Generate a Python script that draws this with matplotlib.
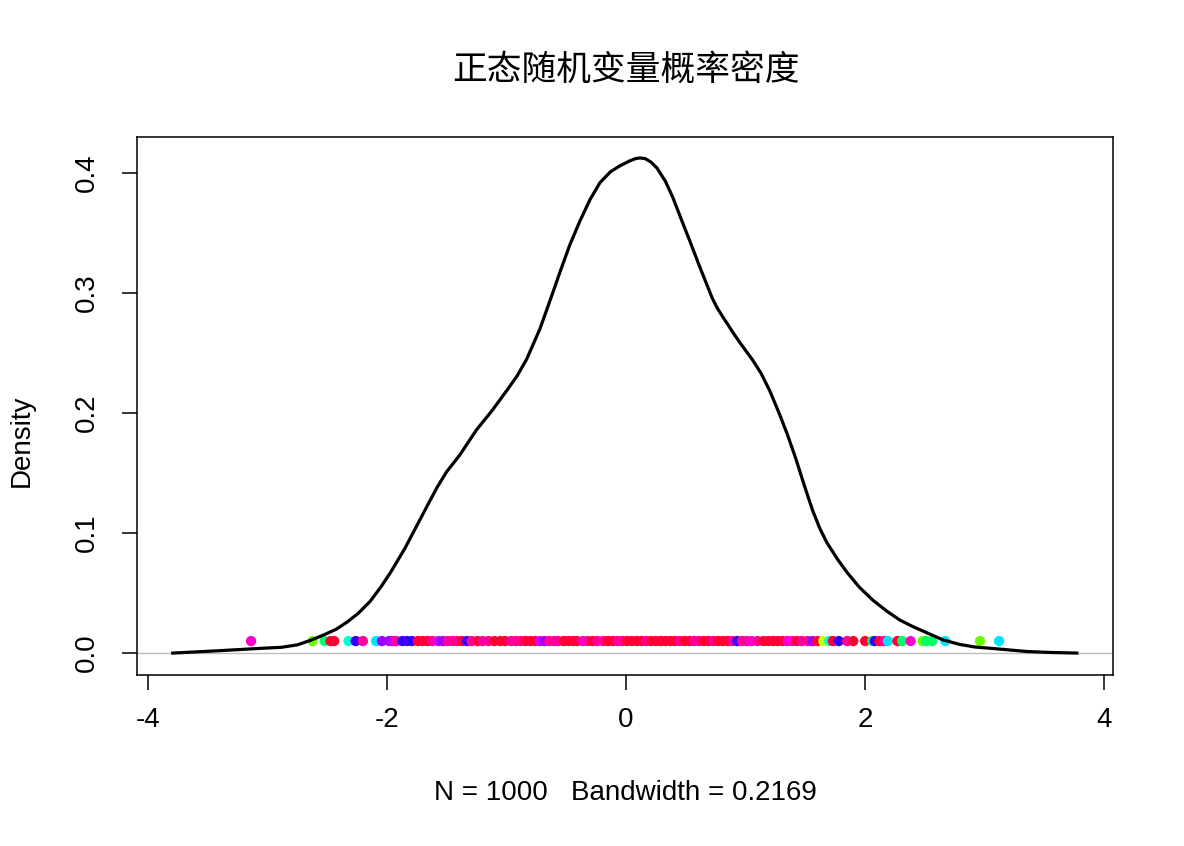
import matplotlib
matplotlib.use("Agg")
import matplotlib.pyplot as plt

plt.rcParams['font.family'] = ['Liberation Sans', 'DejaVu Sans']

# density curve
dens_x = [-3.79, -3.45, -3.04, -2.88, -2.75, -2.64, -2.53, -2.42, -2.33, -2.24,
          -2.14, -2.05, -1.97, -1.85, -1.75, -1.66, -1.58, -1.50, -1.39, -1.25,
          -1.12, -0.995, -0.91, -0.83, -0.72, -0.62, -0.55, -0.47, -0.385, -0.30,
          -0.217, -0.13, -0.05, 0.03, 0.08, 0.117, 0.16, 0.21, 0.26, 0.33,
          0.39, 0.46, 0.535, 0.62, 0.68, 0.72, 0.76, 0.81, 0.85, 0.895,
          0.95, 1.06, 1.13, 1.20, 1.28, 1.35, 1.42, 1.49, 1.56, 1.62,
          1.68, 1.77, 1.85, 1.95, 2.065, 2.18, 2.29, 2.40, 2.52, 2.65,
          2.79, 2.92, 3.07, 3.35, 3.55, 3.77]
dens_y = [0.0, 0.0017, 0.004, 0.0048, 0.0068, 0.0105, 0.015, 0.020, 0.026, 0.033,
          0.043, 0.055, 0.067, 0.087, 0.106, 0.123, 0.138, 0.151, 0.165, 0.186,
          0.202, 0.219, 0.231, 0.245, 0.270, 0.298, 0.318, 0.340, 0.360, 0.378,
          0.392, 0.401, 0.406, 0.410, 0.412, 0.4125, 0.412, 0.409, 0.404, 0.393,
          0.380, 0.362, 0.343, 0.321, 0.306, 0.296, 0.288, 0.280, 0.274, 0.267,
          0.259, 0.244, 0.233, 0.219, 0.200, 0.182, 0.162, 0.140, 0.119, 0.104,
          0.092, 0.078, 0.067, 0.055, 0.044, 0.035, 0.0275, 0.022, 0.0167, 0.011,
          0.0072, 0.005, 0.0038, 0.0013, 0.0005, 0.0]

# sample points shown on the strip at y = 0.01
palette = {'r': '#FF0033', 'p': '#FF0099', 'm': '#FF00CC', 'v': '#CC00FF',
           'u': '#9900FF', 'b': '#3300FF', 'c': '#00E5FF', 'q': '#00FFCC',
           'g': '#00FF66', 'l': '#66FF00', 'y': '#CCFF00'}

pt_x = [-3.135, -2.62, -2.52, -2.47, -2.44, -2.32, -2.26, -2.20, -2.09, -2.04,
        -1.98, -1.95, -1.92, -1.87, -1.83, -1.79, -1.74, -1.70, -1.66, -1.62,
        -1.57, -1.53, -1.49, -1.45, -1.41, -1.37, -1.33, -1.29, -1.24, -1.20,
        -1.15, -1.10, -1.05, -1.01, -0.96, -0.92, -0.88, -0.84, -0.80, -0.76,
        -0.72, -0.68, -0.64, -0.60, -0.57, -0.52, -0.48, -0.44, -0.41, -0.36,
        -0.32, -0.28, -0.24, -0.19, -0.15, -0.11, -0.07, -0.03, 0.01, 0.05,
        0.09, 0.13, 0.17, 0.21, 0.25, 0.29, 0.33, 0.37, 0.41, 0.45,
        0.49, 0.53, 0.57, 0.61, 0.65, 0.69, 0.73, 0.77, 0.81, 0.85,
        0.89, 0.93, 0.97, 1.01, 1.05, 1.10, 1.15, 1.19, 1.23, 1.27,
        1.31, 1.35, 1.39, 1.43, 1.47, 1.52, 1.56, 1.60, 1.65, 1.70,
        1.73, 1.78, 1.85, 1.90, 2.00, 2.06, 2.08, 2.12, 2.16, 2.19,
        2.27, 2.31, 2.38, 2.48, 2.51, 2.56, 2.67, 2.96, 3.12]
pt_col = ['m', 'l', 'g', 'r', 'r', 'q', 'b', 'p', 'c', 'u',
          'u', 'v', 'p', 'b', 'b', 'b', 'r', 'r', 'r', 'p',
          'v', 'u', 'p', 'p', 'p', 'r', 'b', 'p', 'r', 'p',
          'p', 'r', 'r', 'r', 'p', 'p', 'p', 'r', 'r', 'r',
          'v', 'u', 'p', 'p', 'p', 'r', 'r', 'r', 'r', 'm',
          'p', 'r', 'p', 'p', 'r', 'r', 'p', 'p', 'r', 'r',
          'r', 'r', 'p', 'r', 'r', 'r', 'r', 'r', 'r', 'p',
          'r', 'r', 'p', 'p', 'r', 'r', 'p', 'r', 'r', 'r',
          'p', 'b', 'p', 'p', 'm', 'p', 'r', 'r', 'r', 'r',
          'r', 'm', 'm', 'r', 'p', 'p', 'u', 'r', 'y', 'q',
          'r', 'b', 'p', 'r', 'r', 'g', 'b', 'r', 'p', 'c',
          'r', 'g', 'm', 'l', 'g', 'g', 'c', 'l', 'c']

title = '正态随机变量概率密度'
x_ticks = [-4, -2, 0, 2, 4]
y_ticks = [0.0, 0.1, 0.2, 0.3, 0.4]
sub = 'N = 1000   Bandwidth = 0.2169'

fig = plt.figure(figsize=(11.84, 8.46), dpi=100)
ax = fig.add_axes([0.1157, 0.2021, 0.8243, 0.636])

ax.axhline(0, color='#BEBEBE', lw=1.0, zorder=1)
ax.scatter(pt_x, [0.01] * len(pt_x), c=[palette[k] for k in pt_col],
           s=55, linewidths=0, zorder=2)
ax.plot(dens_x, dens_y, color='black', lw=2.3, zorder=3, solid_joinstyle='round')

ax.set_xlim(-4.089, 4.072)
ax.set_ylim(-0.0183, 0.43)
ax.set_xticks(x_ticks)
ax.set_xticklabels([str(t) for t in x_ticks])
ax.set_yticks(y_ticks)
ax.set_yticklabels(['%.1f' % t for t in y_ticks], rotation=90, va='center')
ax.tick_params(direction='out', length=11, width=1.1, labelsize=20, color='black')
ax.tick_params(axis='x', pad=12)
ax.tick_params(axis='y', pad=16)
for s in ax.spines.values():
    s.set_linewidth(1.1)

fig.text(0.5286, 0.917, title, ha='center', va='center', fontsize=25,
         family=['Noto Sans CJK SC', 'DejaVu Sans'])
fig.text(0.5286, 0.0626, sub, ha='center', va='center', fontsize=20)
fig.text(0.0186, 0.4787, 'Density', ha='center', va='center', fontsize=20, rotation=90)

fig.savefig('out.png', dpi=100)
